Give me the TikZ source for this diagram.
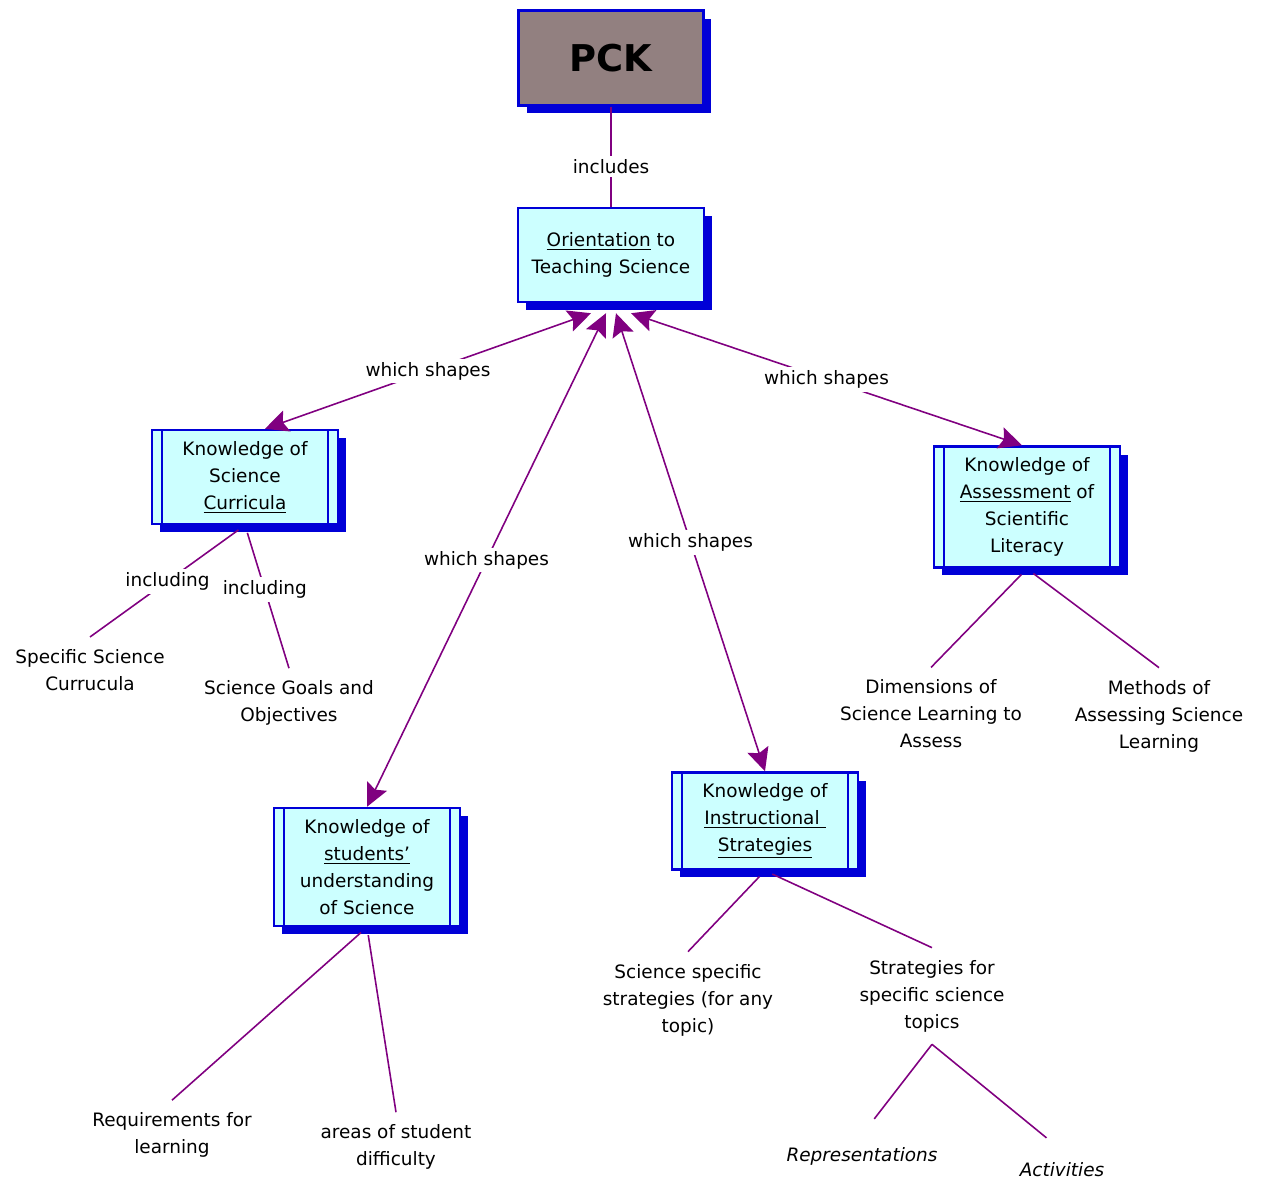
\documentclass[tikz,border=0pt]{standalone}
\usepackage{fontspec}
\setmainfont{DejaVu Sans}
\usepackage{tikz}
\usetikzlibrary{positioning, arrows.meta, calc, shadows}
\definecolor{pckgray}{RGB}{146,128,128}
\definecolor{boxcyan}{RGB}{204,255,255}
\definecolor{boxblue}{RGB}{0,0,215}
\definecolor{linkpurple}{RGB}{128,0,128}

\begin{document}
\begin{tikzpicture}[
    x=0.02cm, y=-0.02cm,
    every node/.style={font=\fontsize{10.5}{15.4}\selectfont, align=center},
    box/.style={draw=boxblue, line width=1.4pt, fill=boxcyan, minimum width=3.72cm, inner sep=0pt,
        drop shadow={shadow xshift=0.16cm, shadow yshift=-0.16cm, fill=boxblue, opacity=1}},
    kbox/.style={box, path picture={
        \draw[boxblue, line width=1.4pt] ([xshift=0.2cm]path picture bounding box.south west) -- ([xshift=0.2cm]path picture bounding box.north west);
        \draw[boxblue, line width=1.4pt] ([xshift=-0.2cm]path picture bounding box.south east) -- ([xshift=-0.2cm]path picture bounding box.north east);}},
    concept/.style={inner sep=0.24cm},
    lbl/.style={fill=white, inner sep=2pt},
    link/.style={draw=linkpurple, line width=0.9pt},
    sublink/.style={link, shorten <=0.16cm},
    arr/.style={link, {Stealth[length=4.6mm, width=4.4mm, inset=0.8mm]}-{Stealth[length=4.6mm, width=4.4mm, inset=0.8mm]}}
]
\useasboundingbox (0,0) rectangle (1262,1179);

\node[box, fill=pckgray, minimum width=3.7cm, minimum height=1.9cm, font=\fontsize{21}{25}\selectfont\bfseries] (PCK) at (611,58) {PCK};
\node[box, minimum height=1.88cm] (OTS) at (611,255) {\underline{Orientation} to\\Teaching Science};
\node[kbox, minimum height=1.88cm] (KSC) at (245,477) {Knowledge of\\Science\\\underline{Curricula}};
\node[kbox, minimum height=2.42cm] (KAS) at (1027,507) {Knowledge of\\\underline{Assessment} of\\Scientific\\Literacy};
\node[kbox, minimum height=2.36cm] (KSU) at (367,867) {Knowledge of\\\underline{students'}\\understanding\\of Science};
\node[kbox, minimum height=1.94cm] (KIS) at (765,821) {Knowledge of\\\underline{Instructional\ }\\\underline{Strategies}};

\node[concept] (SSC) at (90,670) {Specific Science\\Currucula};
\node[concept] (SGO) at (289,703) {Science Goals and\\Objectives};
\node[concept] (DSL) at (931,714) {Dimensions of\\Science Learning to\\Assess};
\node[concept] (MAS) at (1159,716) {Methods of\\Assessing Science\\Learning};
\node[concept] (RFL) at (172,1135) {Requirements for\\learning};
\node[concept] (ASD) at (396,1147) {areas of student\\difficulty};
\node[concept] (SSS) at (688,1000) {Science specific\\strategies (for any\\topic)};
\node[concept] (SFT) at (932,996) {Strategies for\\specific science\\topics};
\node[concept, font=\fontsize{10.5}{15.4}\selectfont\itshape] (REP) at (862,1156) {Representations};
\node[concept, font=\fontsize{10.5}{15.4}\selectfont\itshape] (ACT) at (1062,1170) {Activities};

\draw[link] (PCK) -- node[lbl, pos=0.6] {includes} (OTS);

\draw[arr] ([xshift=-0.4cm,yshift=-0.2cm]OTS.south) -- node[lbl] {which shapes} ([xshift=0.4cm]KSC.north);
\draw[arr] ([xshift=-0.1cm,yshift=-0.2cm]OTS.south) -- node[lbl] {which shapes} (KSU.north);
\draw[arr] ([xshift=0.1cm,yshift=-0.2cm]OTS.south) -- node[lbl] {which shapes} (KIS.north);
\draw[arr] ([xshift=0.4cm,yshift=-0.2cm]OTS.south) -- node[lbl] {which shapes} ([xshift=-0.1cm]KAS.north);

\draw[sublink] (KSC.south) -- node[lbl] {including} (SSC.north);
\draw[sublink] (KSC.south) -- node[lbl, pos=0.45] {including} (SGO.north);
\draw[sublink] (KAS.south) -- (DSL.north);
\draw[sublink] (KAS.south) -- (MAS.north);
\draw[sublink] (KSU.south) -- (RFL.north);
\draw[sublink] (KSU.south) -- (ASD.north);
\draw[sublink] (KIS.south) -- (SSS.north);
\draw[sublink] (KIS.south) -- (SFT.north);
\draw[link, shorten >=0.4cm] (SFT.south) -- (REP.north);
\draw[link, shorten >=0.4cm] (SFT.south) -- (ACT.north);

\end{tikzpicture}
\end{document}
